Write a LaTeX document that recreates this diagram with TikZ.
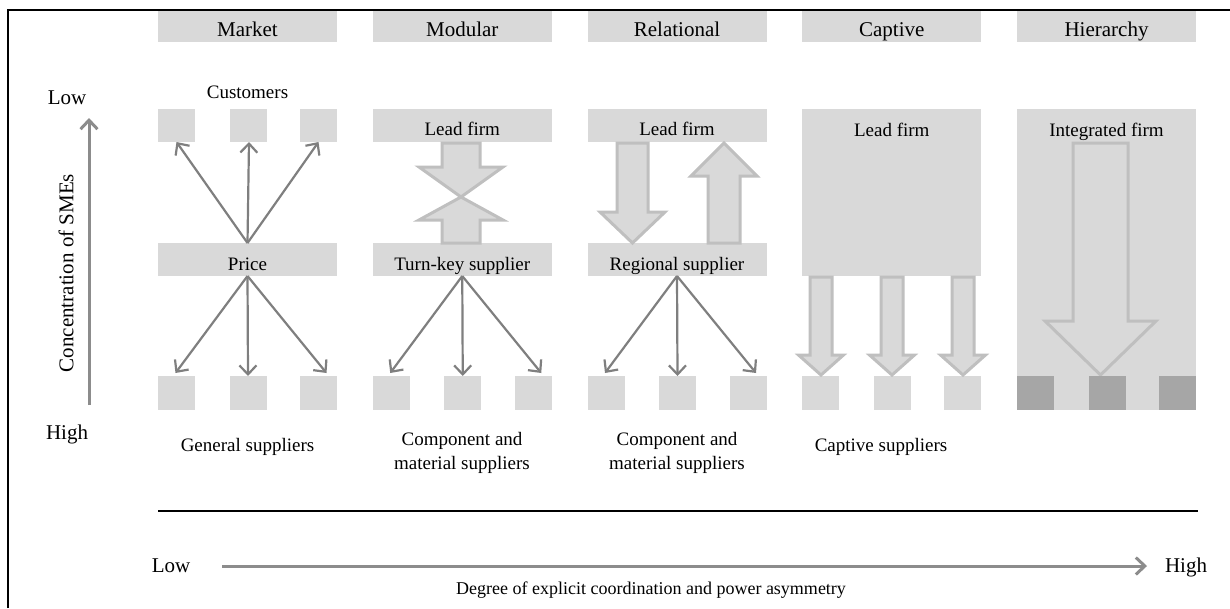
\documentclass[tikz,border=0pt]{standalone}
\usepackage{fontspec}
\setmainfont{Liberation Serif}
\usetikzlibrary{arrows.meta,calc}
\definecolor{boxgray}{HTML}{D9D9D9}
\definecolor{edgegray}{HTML}{BFBFBF}
\definecolor{arrowgray}{HTML}{7F7F7F}
\definecolor{axisgray}{HTML}{8C8C8C}
\definecolor{darkbox}{HTML}{A6A6A6}
\begin{document}
\begin{tikzpicture}[x=1pt,y=-1pt,
  gbox/.style={fill=boxgray, draw=none, inner sep=0pt, outer sep=0pt, anchor=north west},
  dbox/.style={fill=darkbox, draw=none, inner sep=0pt, outer sep=0pt, anchor=north west,
    minimum width=37pt, minimum height=34pt},
  sqbox/.style={gbox, minimum width=37pt, minimum height=34pt},
  topsq/.style={gbox, minimum width=37pt, minimum height=33pt},
  widebox/.style={gbox, minimum width=179pt, minimum height=33pt},
  lbl/.style={font=\fontsize{19}{23}\selectfont, inner sep=0pt, anchor=base},
  biglbl/.style={font=\fontsize{21}{25}\selectfont, inner sep=0pt, anchor=base},
  thinarrow/.style={draw=arrowgray, line width=2.2pt,
    -{Straight Barb[length=9pt,width=17pt]}},
  axisarrow/.style={draw=axisgray, line width=3pt,
    -{Straight Barb[length=9pt,width=17pt]}},
  blockarrow/.style={fill=boxgray, draw=edgegray, line width=3pt, line join=miter},
  frameline/.style={draw=black, line width=2.5pt}
]
\useasboundingbox (0,0) rectangle (1230,608);

% frame
\draw[frameline] (8,608) -- (8,10) -- (1230,10);

% headers
\foreach \n/\x/\t in {1/158/Market, 2/372.75/Modular, 3/587.5/Relational, 4/802.25/Captive, 5/1017/Hierarchy} {
  \node[gbox, minimum width=179pt, minimum height=31pt] (h\n) at (\x,11) {};
  \node[biglbl] (ht\n) at ($(h\n.north)+(0,25)$) {\t};
}

% bottom squares for columns 1-4
\foreach \n/\x in {1/158, 2/372.75, 3/587.5, 4/802.25} {
  \node[sqbox] (b\n-1) at (\x,376) {};
  \node[sqbox] (b\n-2) at (\x+71.5,376) {};
  \node[sqbox] (b\n-3) at (\x+142,376) {};
}

% ---------- Market ----------
\node[lbl] (custlbl) at (247.5,98) {Customers};
\node[topsq] (c1) at (158,109) {};
\node[topsq] (c2) at (229.5,109) {};
\node[topsq] (c3) at (300,109) {};
\node[widebox] (p1) at (158,243) {};
\node[lbl] (p1t) at ($(p1.north)+(0,27)$) {Price};

% ---------- Modular ----------
\node[widebox] (lf2) at (372.75,109) {};
\node[lbl] (lf2t) at ($(lf2.north)+(0,26)$) {Lead firm};
\node[widebox] (p2) at (372.75,243) {};
\node[lbl] (p2t) at ($(p2.north)+(0,27)$) {Turn-key supplier};

% ---------- Relational ----------
\node[widebox] (lf3) at (587.5,109) {};
\node[lbl] (lf3t) at ($(lf3.north)+(0,26)$) {Lead firm};
\node[widebox] (p3) at (587.5,243) {};
\node[lbl] (p3t) at ($(p3.north)+(0,27)$) {Regional supplier};

% ---------- Captive ----------
\node[gbox, minimum width=179pt, minimum height=167pt] (lf4) at (802.25,109) {};
\node[lbl] (lf4t) at ($(lf4.north)+(0,27)$) {Lead firm};

% ---------- Hierarchy ----------
\node[gbox, minimum width=179pt, minimum height=301pt] (lf5) at (1017,109) {};
\node[lbl] (lf5t) at ($(lf5.north)+(0,27)$) {Integrated firm};

% block arrows: modular
\draw[blockarrow] (442,143) -- (480,143) -- (480,167) -- (503,167) -- (461,197) -- (419,167) -- (442,167) -- cycle;
\draw[blockarrow] (461,197) -- (503,220) -- (480,220) -- (480,243) -- (442,243) -- (442,220) -- (419,220) -- cycle;
% block arrows: relational
\draw[blockarrow] (617,143) -- (648,143) -- (648,212) -- (665,212) -- (632.5,243) -- (600,212) -- (617,212) -- cycle;
\draw[blockarrow] (724,143) -- (757,176) -- (740,176) -- (740,243) -- (708,243) -- (708,176) -- (691,176) -- cycle;
% block arrows: captive
\foreach \c in {821,892,963} {
  \draw[blockarrow] (\c-11,277) -- (\c+11,277) -- (\c+11,355) -- (\c+22.5,355) -- (\c,375) -- (\c-22.5,355) -- (\c-11,355) -- cycle;
}
% block arrow: hierarchy
\draw[blockarrow] (1073,143) -- (1128,143) -- (1128,321) -- (1156,321) -- (1100.5,375) -- (1045,321) -- (1073,321) -- cycle;

% hierarchy dark squares
\node[dbox] (d1) at (1017,376) {};
\node[dbox] (d2) at (1088.5,376) {};
\node[dbox] (d3) at (1159,376) {};

% thin arrows: market top
\draw[thinarrow] (p1.north) -- (c1.south);
\draw[thinarrow] (p1.north) -- ($(c2.south)+(1,0)$);
\draw[thinarrow] (p1.north) -- (c3.south);
% thin arrows: fan-out to suppliers
\foreach \n in {1,2,3} {
  \draw[thinarrow] (p\n.south) -- ($(b\n-1.north)+(-1,-3)$);
  \draw[thinarrow] (p\n.south) -- (b\n-2.north);
  \draw[thinarrow] (p\n.south) -- ($(b\n-3.north)+(8,-3)$);
}

% bottom labels
\node[lbl] (gs) at (247.5,451) {General suppliers};
\node[lbl] (cm2a) at (462,445) {Component and};
\node[lbl] (cm2b) at (462,469) {material suppliers};
\node[lbl] (cm3a) at (677,445) {Component and};
\node[lbl] (cm3b) at (677,469) {material suppliers};
\node[lbl] (cs) at (881,451) {Captive suppliers};

% vertical axis
\coordinate (va0) at (89,405);
\coordinate (va1) at (89,118);
\draw[axisarrow] (va0) -- (va1);
\node[biglbl] (vlow) at (67,104) {Low};
\node[biglbl] (vhigh) at (67,439) {High};
\node[font=\fontsize{21}{25}\selectfont, inner sep=0pt, rotate=90] (vlab) at (66,273) {Concentration of SMEs};

% separator line
\coordinate (sl0) at (158,511);
\coordinate (sl1) at (1198,511);
\draw[frameline] (sl0) -- (sl1);

% horizontal axis
\coordinate (ha0) at (222,566);
\coordinate (ha1) at (1147,566);
\draw[axisarrow] (ha0) -- (ha1);
\node[biglbl] (hlow) at (171,572) {Low};
\node[biglbl] (hhigh) at (1186,572) {High};
\node[font=\fontsize{18}{22}\selectfont, inner sep=0pt, anchor=base] (hlab) at (651,594) {Degree of explicit coordination and power asymmetry};
\end{tikzpicture}
\end{document}
